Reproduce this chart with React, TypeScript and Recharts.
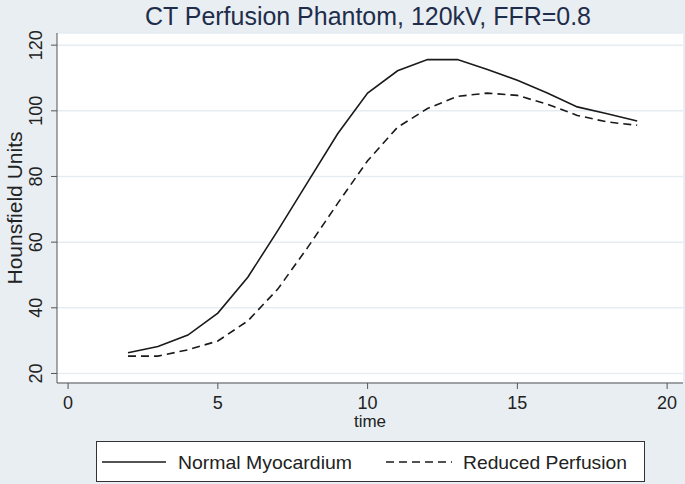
import { LineChart, Line, XAxis, YAxis, CartesianGrid } from "recharts";

const times = [2, 3, 4, 5, 6, 7, 8, 9, 10, 11, 12, 13, 14, 15, 16, 17, 18, 19];
const normalMyocardium = [26.3, 28.2, 31.7, 38.4, 49.3, 63.5, 78.3, 93.0, 105.4, 112.2, 115.6, 115.6, 112.6, 109.3, 105.4, 101.2, 99.1, 96.9];
const reducedPerfusion = [25.3, 25.3, 27.2, 29.9, 36.0, 45.7, 58.4, 71.8, 84.8, 95.0, 100.7, 104.4, 105.4, 104.7, 102.0, 98.6, 96.6, 95.6];
const xTicks = [0, 5, 10, 15, 20];
const yTicks = [20, 40, 60, 80, 100, 120];

const data = times.map((t, i) => ({
  time: t,
  normal: normalMyocardium[i],
  reduced: reducedPerfusion[i],
}));

const FONT = '"Liberation Sans", Arial, sans-serif';
const BG = "#e8eef2";

function YTick(props: any) {
  const { x, y, payload } = props;
  const cx = x - 13;
  return (
    <text
      x={cx}
      y={y}
      transform={`rotate(-90, ${cx}, ${y})`}
      textAnchor="middle"
      dominantBaseline="central"
      fontSize={18}
      fill="#222"
      fontFamily={FONT}
    >
      {payload.value}
    </text>
  );
}

// y-axis title drawn by hand so its length can match
function YTitle() {
  return (
    <text
      x={15}
      y={208}
      transform="rotate(-90, 15, 208)"
      textAnchor="middle"
      dominantBaseline="central"
      fontSize={20}
      textLength={153}
      lengthAdjust="spacingAndGlyphs"
      fill="#222"
      fontFamily={FONT}
    >
      Hounsfield Units
    </text>
  );
}

export default function App() {
  return (
    <div style={{ position: "fixed", left: 0, top: 0, width: 685, height: 484, background: BG, fontFamily: FONT }}>
      <svg style={{ position: "absolute", left: 0, top: 0 }} width={685} height={33}>
        <text
          x={368}
          y={16}
          textAnchor="middle"
          dominantBaseline="central"
          fontSize={25}
          textLength={446}
          lengthAdjust="spacingAndGlyphs"
          fill="#1f2d4a"
          fontFamily={FONT}
        >
          CT Perfusion Phantom, 120kV, FFR=0.8
        </text>
      </svg>
      <LineChart width={685} height={484} data={data} margin={{ top: 33, right: 2, left: 0, bottom: 55 }}>
        <CartesianGrid vertical={false} fill="#ffffff" stroke="#e6edf2" strokeWidth={1.5} />
        <XAxis
          dataKey="time"
          type="number"
          domain={[-0.37, 20.53]}
          ticks={xTicks}
          allowDataOverflow
          height={46}
          tickSize={6}
          tickMargin={7}
          stroke="#555"
          tick={{ fontSize: 18, fill: "#222", fontFamily: FONT }}
          label={{ value: "time", position: "insideBottom", offset: 2, fontSize: 17, fill: "#222", fontFamily: FONT }}
        />
        <YAxis
          type="number"
          domain={[17.1, 123.7]}
          ticks={yTicks}
          allowDataOverflow
          width={57}
          tickSize={6}
          stroke="#555"
          tick={<YTick />}
        />
        <Line
          type="linear"
          dataKey="normal"
          stroke="#1a1a1a"
          strokeWidth={1.6}
          dot={false}
          isAnimationActive={false}
        />
        <Line
          type="linear"
          dataKey="reduced"
          stroke="#1a1a1a"
          strokeWidth={1.6}
          strokeDasharray="8 5"
          dot={false}
          isAnimationActive={false}
        />
      </LineChart>
      <svg style={{ position: "absolute", left: 0, top: 0, pointerEvents: "none" }} width={60} height={484}>
        <YTitle />
      </svg>
      <svg style={{ position: "absolute", left: 96, top: 441 }} width={549} height={41}>
        <rect x={0.5} y={0.5} width={548} height={40} fill="#fff" stroke="#333" />
        <line x1={6} x2={70} y1={21} y2={21} stroke="#1a1a1a" strokeWidth={1.6} />
        <text
          x={82}
          y={21}
          dominantBaseline="central"
          fontSize={19}
          textLength={174}
          lengthAdjust="spacingAndGlyphs"
          fill="#222"
          fontFamily={FONT}
        >
          Normal Myocardium
        </text>
        <line x1={290} x2={356} y1={21} y2={21} stroke="#1a1a1a" strokeWidth={1.6} strokeDasharray="8 5" />
        <text
          x={367}
          y={21}
          dominantBaseline="central"
          fontSize={19}
          textLength={164}
          lengthAdjust="spacingAndGlyphs"
          fill="#222"
          fontFamily={FONT}
        >
          Reduced Perfusion
        </text>
      </svg>
    </div>
  );
}
